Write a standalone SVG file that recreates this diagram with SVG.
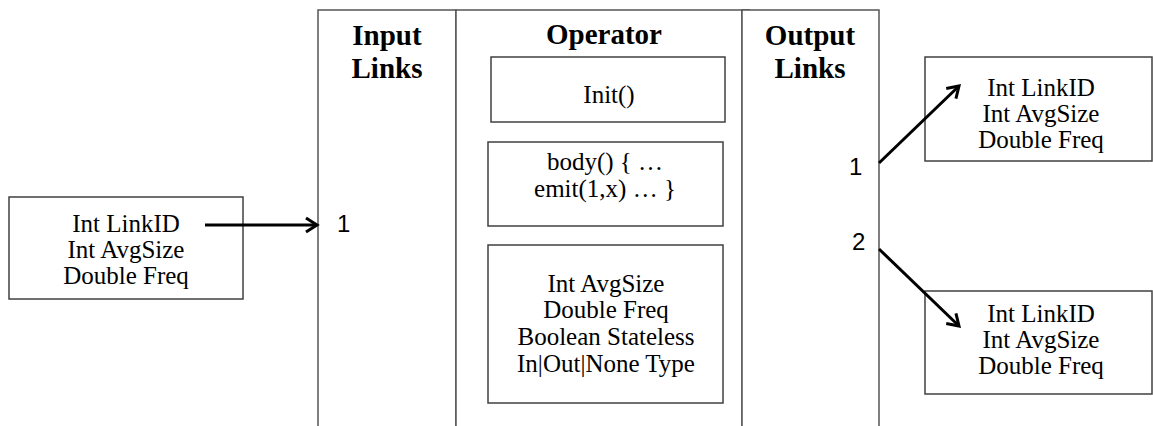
<svg xmlns="http://www.w3.org/2000/svg" width="1153" height="426" viewBox="0 0 1153 426">
<style>
.box{fill:#fff;stroke:#404040;stroke-width:1.5}
.col{fill:#fff;stroke:#555;stroke-width:1.5}
.t{font-family:"Liberation Serif","Times New Roman",serif;font-size:25px;fill:#000;text-anchor:middle}
.h{font-family:"Liberation Serif","Times New Roman",serif;font-size:29px;font-weight:bold;fill:#000;text-anchor:middle}
.n{font-family:"Liberation Sans",Arial,sans-serif;font-size:24px;fill:#000}
.a{fill:none;stroke:#000;stroke-width:3;marker-end:url(#ah)}
</style>
<defs>
<marker id="ah" markerUnits="userSpaceOnUse" viewBox="-14 -10 16 20" refX="0" refY="0" markerWidth="16" markerHeight="20" orient="auto" overflow="visible">
<path d="M-11,-7 L0,0 L-11,7" fill="none" stroke="#000" stroke-width="3" stroke-linejoin="miter"/>
</marker>
</defs>
<rect width="1153" height="426" fill="#fff"/>
<g id="input-links">
<rect class="col" x="318" y="10" width="138" height="430"/>
<text class="h" x="387" y="45">Input</text>
<text class="h" x="387" y="78">Links</text>
<text class="n" x="337" y="232">1</text>
</g>
<g id="operator">
<rect class="col" x="456" y="10" width="286" height="430"/>
<line x1="742" y1="10" x2="750" y2="10" stroke="#555" stroke-width="1.5"/>
<text class="h" x="604" y="44">Operator</text>
</g>
<g id="init">
<rect class="box" x="491" y="57" width="234" height="65"/>
<text class="t" x="609" y="103">Init()</text>
</g>
<g id="body">
<rect class="box" x="488" y="142" width="235" height="84"/>
<text class="t" x="605" y="170">body() { …</text>
<text class="t" x="605" y="197">emit(1,x) … }</text>
</g>
<g id="state">
<rect class="box" x="488" y="245" width="235" height="158"/>
<text class="t" x="606" y="292">Int AvgSize</text>
<text class="t" x="606" y="318">Double Freq</text>
<text class="t" x="606" y="345">Boolean Stateless</text>
<text class="t" x="606" y="372">In|Out|None Type</text>
</g>
<g id="output-links">
<rect class="col" x="742" y="10" width="137" height="430"/>
<text class="h" x="810" y="45">Output</text>
<text class="h" x="810" y="78">Links</text>
<text class="n" x="849" y="175">1</text>
<text class="n" x="852" y="250">2</text>
</g>
<g id="src">
<rect class="box" x="9" y="197" width="234" height="102"/>
<text class="t" x="126" y="232">Int LinkID</text>
<text class="t" x="126" y="258">Int AvgSize</text>
<text class="t" x="126" y="284">Double Freq</text>
</g>
<g id="out1">
<rect class="box" x="925" y="57" width="227" height="104"/>
<text class="t" x="1041" y="96">Int LinkID</text>
<text class="t" x="1041" y="122">Int AvgSize</text>
<text class="t" x="1041" y="148">Double Freq</text>
</g>
<g id="out2">
<rect class="box" x="925" y="291" width="227" height="103"/>
<text class="t" x="1041" y="322">Int LinkID</text>
<text class="t" x="1041" y="348">Int AvgSize</text>
<text class="t" x="1041" y="374">Double Freq</text>
</g>
<g id="connectors">
<path class="a" d="M205,225 L317,225"/>
<path class="a" d="M879,163 L959,86"/>
<path class="a" d="M879,249 L959,326"/>
</g>
</svg>
